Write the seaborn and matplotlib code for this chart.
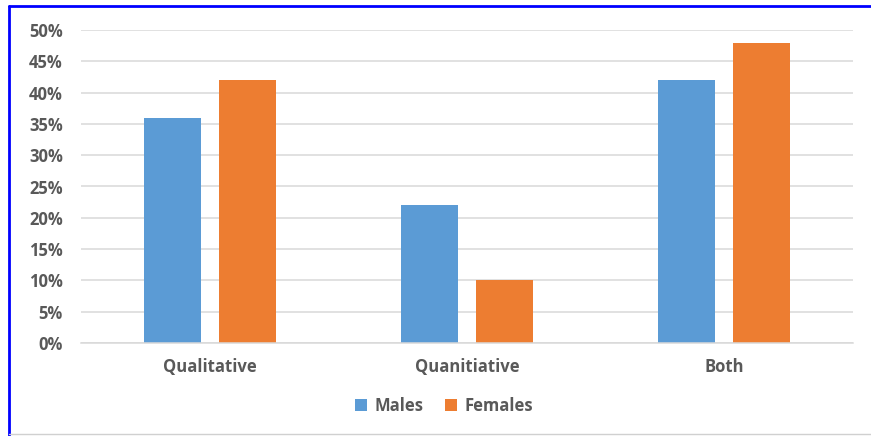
import matplotlib
matplotlib.use("Agg")
import matplotlib.pyplot as plt
from matplotlib.lines import Line2D
from matplotlib.patches import Patch
import seaborn as sns
import pandas as pd

categories = ["Qualitative", "Quanitiative", "Both"]
males = [36, 22, 42]
females = [42, 10, 48]
series_names = ["Males", "Females"]
tick_values = [0, 5, 10, 15, 20, 25, 30, 35, 40, 45, 50]

colors = {"Males": "#5b9bd5", "Females": "#ed7d31"}
text_color = "#595959"

df = pd.DataFrame({
    "category": categories * 2,
    "series": ["Males"] * len(categories) + ["Females"] * len(categories),
    "value": males + females,
})

sns.set_theme(style="white")
plt.rcParams["font.family"] = ["Open Sans", "DejaVu Sans"]

fig = plt.figure(figsize=(8.71, 4.36), dpi=100)
ax = fig.add_axes([81 / 871, 1 - 343 / 436, (853 - 81) / 871, (343 - 30) / 436])

sns.barplot(data=df, x="category", y="value", hue="series", order=categories,
            hue_order=series_names, palette=colors, width=0.584, gap=0.24,
            ax=ax, legend=False, saturation=1, edgecolor="none")

ax.set_ylim(0, 50)
ax.set_xlim(-0.5, 2.5)
ax.set_yticks(tick_values)
ax.set_yticklabels([f"{v}%" for v in tick_values])
ax.yaxis.grid(True, color="#d9d9d9", linewidth=1.1)
ax.set_axisbelow(True)
for side in ["top", "right", "left"]:
    ax.spines[side].set_visible(False)
ax.spines["bottom"].set_color("#d9d9d9")
ax.spines["bottom"].set_linewidth(1.1)
ax.tick_params(axis="both", length=0, colors=text_color, labelsize=12)
ax.tick_params(axis="x", pad=11)
ax.tick_params(axis="y", pad=13)
for lbl in ax.get_xticklabels() + ax.get_yticklabels():
    lbl.set_fontweight("bold")
ax.set_xlabel("")
ax.set_ylabel("")

handles = [Patch(facecolor=colors[s], edgecolor="none") for s in series_names]
fig.legend(handles, series_names, loc="center", bbox_to_anchor=(444 / 871, 1 - 406 / 436),
           ncol=2, frameon=False, handlelength=0.7, handleheight=0.7,
           handletextpad=0.45, columnspacing=1.3,
           prop={"size": 12, "weight": "bold"}, labelcolor=text_color)

# frame around the chart
fig.add_artist(Line2D([9 / 871, 9 / 871], [0, 1 - 6 / 436], color="#0000ff", linewidth=2,
                      transform=fig.transFigure))
fig.add_artist(Line2D([9 / 871, 1], [1 - 6 / 436, 1 - 6 / 436], color="#0000ff", linewidth=2,
                      transform=fig.transFigure))
fig.add_artist(Line2D([9 / 871, 1], [1 - 434 / 436, 1 - 434 / 436], color="#d0d0d0", linewidth=1,
                      transform=fig.transFigure))

fig.savefig("out.png", dpi=100)
